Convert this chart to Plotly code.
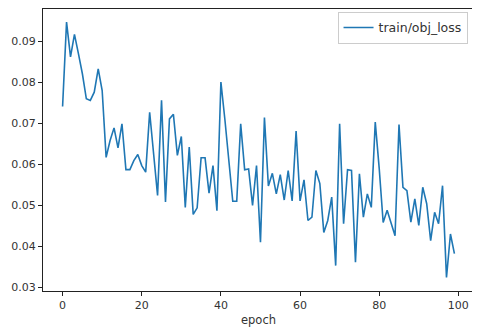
import plotly.graph_objects as go

# epochs 0..99 e valores
epoch = list(range(100))
obj_loss = [
    0.0741, 0.0947, 0.0862, 0.0917, 0.0870, 0.0821, 0.0760, 0.0756, 0.0776, 0.0833,
    0.0780, 0.0617, 0.0658, 0.0689, 0.0640, 0.0699, 0.0587, 0.0587, 0.0609, 0.0624,
    0.0597, 0.0581, 0.0727, 0.0626, 0.0524, 0.0756, 0.0508, 0.0711, 0.0722, 0.0622,
    0.0668, 0.0495, 0.0642, 0.0478, 0.0494, 0.0616, 0.0616, 0.0530, 0.0597, 0.0487,
    0.0801, 0.0710, 0.0610, 0.0510, 0.0510, 0.0699, 0.0587, 0.0589, 0.0500, 0.0597,
    0.0410, 0.0714, 0.0547, 0.0578, 0.0528, 0.0575, 0.0513, 0.0585, 0.0511, 0.0681,
    0.0511, 0.0562, 0.0463, 0.0471, 0.0585, 0.0553, 0.0434, 0.0463, 0.0520, 0.0353,
    0.0699, 0.0455, 0.0587, 0.0585, 0.0361, 0.0577, 0.0471, 0.0528, 0.0495, 0.0703,
    0.0590, 0.0458, 0.0488, 0.0458, 0.0426, 0.0697, 0.0544, 0.0536, 0.0459, 0.0516,
    0.0451, 0.0544, 0.0504, 0.0414, 0.0483, 0.0455, 0.0548, 0.0324, 0.0430, 0.0382,
]
x_ticks = [0, 20, 40, 60, 80, 100]
y_ticks = [0.03, 0.04, 0.05, 0.06, 0.07, 0.08, 0.09]

fig = go.Figure()
fig.add_trace(go.Scatter(x=epoch, y=obj_loss, mode="lines", name="train/obj_loss",
                         line=dict(color="#1f77b4", width=1.6)))

eixo = dict(showline=True, linecolor="#222", linewidth=1, mirror=True,
            ticks="outside", ticklen=4, tickcolor="#222", showgrid=False,
            zeroline=False, automargin=False, tickfont=dict(size=11, color="#333"))

# a pagina tem margem de 8px no body, entao a figura fica 8px menor
fig.update_layout(
    width=472, height=325,
    margin=dict(l=35, r=6, t=1, b=42),
    paper_bgcolor="white", plot_bgcolor="white",
    font=dict(family="DejaVu Sans", size=11, color="#333"),
    showlegend=True,
    legend=dict(x=0.985, y=0.99, xanchor="right", yanchor="top",
                bordercolor="#ccc", borderwidth=1, bgcolor="white",
                font=dict(size=12.5)),
    xaxis=dict(range=[-4.95, 103.95], tickvals=x_ticks,
               title=dict(text="epoch", standoff=4, font=dict(size=11.5)), **eixo),
    yaxis=dict(range=[0.0291, 0.0979], tickvals=y_ticks, tickformat=".2f", **eixo),
)

fig.write_html("out.html")
